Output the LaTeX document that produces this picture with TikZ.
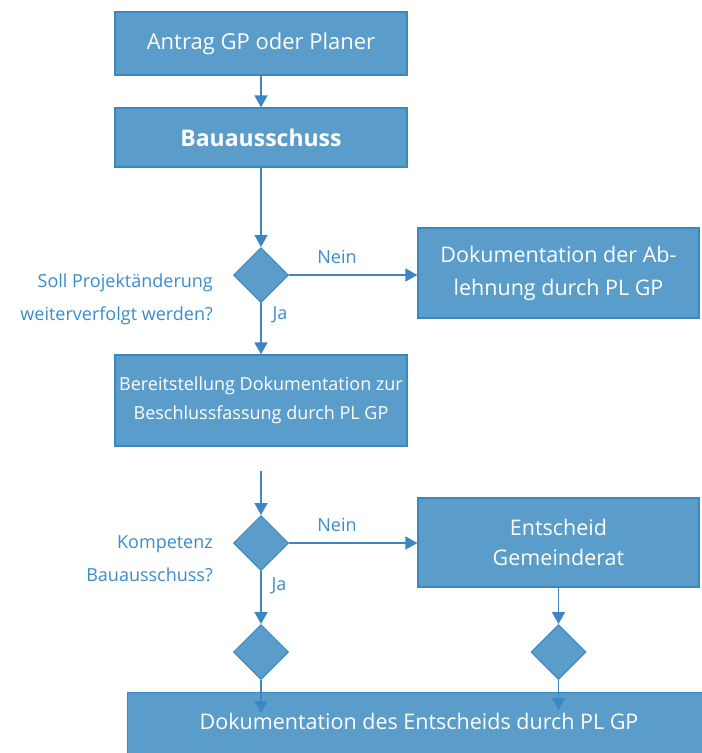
\documentclass[tikz,border=0pt]{standalone}
\usepackage{fontspec}
\setmainfont{Open Sans}
\usetikzlibrary{arrows.meta,shapes.geometric}
\definecolor{boxfill}{HTML}{5A9DCA}
\definecolor{boxline}{HTML}{3B87C0}
\definecolor{linecol}{HTML}{3C87C3}
\definecolor{labcol}{HTML}{3A8CCB}
\begin{document}
\begin{tikzpicture}[x=1pt,y=-1pt,
 box/.style={draw=boxline, line width=1.2pt, fill=boxfill, text=white, align=center, inner sep=0pt, font=\fontsize{22}{33}\selectfont},
 dec/.style={diamond, draw=boxline, line width=1pt, fill=boxfill, minimum width=55pt, minimum height=55pt, inner sep=0pt, aspect=1},
 conn/.style={draw=linecol, line width=1.5pt, -{Triangle[width=13pt,length=12pt]}},
 lab/.style={text=labcol, font=\fontsize{18}{33}\selectfont, inner sep=0pt},
]
\useasboundingbox (0,0) rectangle (702,753);
\clip (0,0) rectangle (702,753);
\fill[white] (0,0) rectangle (702,753);
\node[box, minimum width=292pt, minimum height=63pt] (b1) at (261,43.5) {Antrag GP oder Planer};
\node[box, minimum width=292pt, minimum height=59pt, font=\fontsize{23}{33}\selectfont\bfseries] (b2) at (261,137.5) {Bauausschuss};
\node[dec] (d1) at (261,275) {};
\node[box, minimum width=281pt, minimum height=90pt, font=\fontsize{21.5}{33}\selectfont] (b3) at (558.5,273) {Dokumentation der Ab-\\lehnung durch PL GP};
\node[box, minimum width=292pt, minimum height=91pt, font=\fontsize{18}{29}\selectfont] (b4) at (261,400.5) {Bereitstellung Dokumentation zur\\Beschlussfassung durch PL GP};
\node[dec] (d2) at (261,543) {};
\node[box, minimum width=281pt, minimum height=89pt, font=\fontsize{21.5}{30}\selectfont] (b5) at (558.5,542.5) {Entscheid\\Gemeinderat};
\node[dec] (d3) at (261,652) {};
\node[dec] (d4) at (558.5,652) {};
\node[box, minimum width=590pt, minimum height=80pt, anchor=north west] (b6) at (127,692) {};
\node[text=white, font=\fontsize{21.5}{33}\selectfont, inner sep=0pt] (b6t) at (419,721) {Dokumentation des Entscheids durch PL GP};
\node[lab, anchor=east, align=right] (q1) at (213,299) {Soll Projektänderung\\weiterverfolgt werden?};
\node[lab] (n1) at (337,257) {Nein};
\node[lab] (j1) at (280,315) {Ja};
\node[lab, anchor=east, align=right] (q2) at (213,559) {Kompetenz\\Bauausschuss?};
\node[lab] (n2) at (337,525) {Nein};
\node[lab] (j2) at (279,586) {Ja};
\coordinate (s2) at (261,471);
\coordinate (e3) at (261,713);
\coordinate (e4) at (558.5,710);
\draw[conn] (b1.south) -- (b2.north);
\draw[conn] (b2.south) -- (d1.north);
\draw[conn] (d1.east) -- (d1.east -| b3.west);
\draw[conn] (d1.south) -- (b4.north);
\draw[conn] (s2) -- (d2.north);
\draw[conn] (d2.east) -- (d2.east -| b5.west);
\draw[conn] (d2.south) -- (d3.north);
\draw[conn] (b5.south) -- (d4.north);
\draw[conn] (d3.south) -- (e3);
\draw[conn] (d4.south) -- (e4);
\end{tikzpicture}
\end{document}
